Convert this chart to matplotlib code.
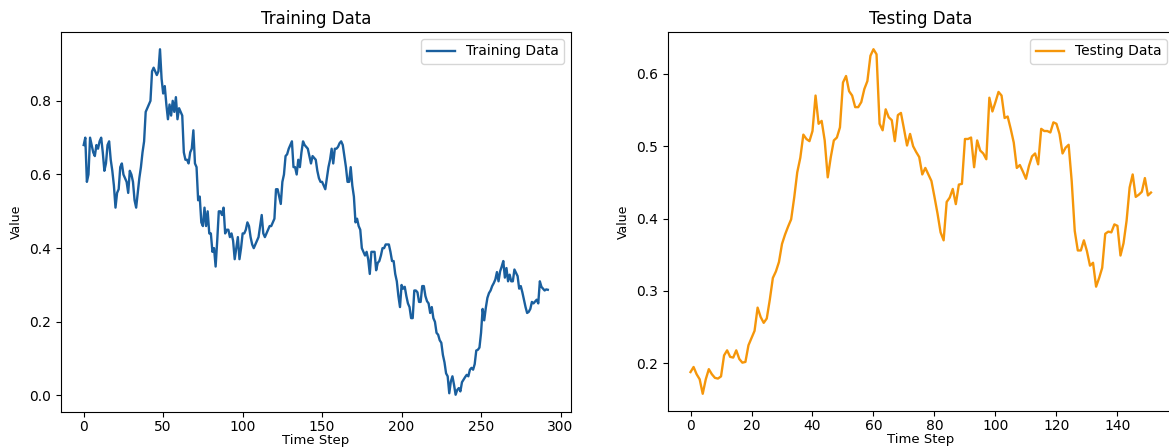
import matplotlib
matplotlib.use('Agg')
import matplotlib.pyplot as plt
import numpy as np

# values
train_values = [
    0.68, 0.70, 0.58, 0.60, 0.70, 0.68, 0.66, 0.65, 0.68, 0.67,
    0.69, 0.70, 0.66, 0.61, 0.63, 0.68, 0.69, 0.64, 0.61, 0.57,
    0.51, 0.55, 0.56, 0.62, 0.63, 0.60, 0.59, 0.58, 0.55, 0.61,
    0.60, 0.58, 0.53, 0.51, 0.55, 0.59, 0.62, 0.66, 0.69, 0.77,
    0.78, 0.79, 0.80, 0.88, 0.89, 0.88, 0.87, 0.88, 0.94, 0.86,
    0.82, 0.84, 0.79, 0.75, 0.79, 0.76, 0.80, 0.77, 0.81, 0.75,
    0.78, 0.77, 0.76, 0.66, 0.64, 0.64, 0.63, 0.66, 0.67, 0.72,
    0.63, 0.62, 0.53, 0.54, 0.47, 0.46, 0.51, 0.46, 0.50, 0.44,
    0.44, 0.39, 0.40, 0.35, 0.42, 0.50, 0.50, 0.49, 0.51, 0.44,
    0.45, 0.45, 0.43, 0.44, 0.42, 0.37, 0.40, 0.43, 0.37, 0.40,
    0.44, 0.44, 0.45, 0.47, 0.46, 0.43, 0.41, 0.40, 0.41, 0.42,
    0.43, 0.46, 0.49, 0.44, 0.43, 0.44, 0.45, 0.46, 0.46, 0.47,
    0.48, 0.56, 0.56, 0.54, 0.52, 0.58, 0.60, 0.65, 0.655, 0.67,
    0.68, 0.69, 0.62, 0.62, 0.60, 0.64, 0.62, 0.66, 0.69, 0.68,
    0.675, 0.67, 0.65, 0.63, 0.65, 0.645, 0.64, 0.61, 0.59, 0.58,
    0.58, 0.57, 0.56, 0.59, 0.62, 0.64, 0.67, 0.63, 0.67, 0.67,
    0.675, 0.685, 0.69, 0.68, 0.65, 0.62, 0.58, 0.58, 0.62, 0.57,
    0.54, 0.47, 0.48, 0.46, 0.45, 0.40, 0.39, 0.38, 0.39, 0.37,
    0.33, 0.39, 0.39, 0.39, 0.34, 0.36, 0.365, 0.38, 0.40, 0.40,
    0.41, 0.41, 0.41, 0.39, 0.365, 0.365, 0.33, 0.31, 0.27, 0.24,
    0.30, 0.29, 0.295, 0.27, 0.25, 0.24, 0.21, 0.21, 0.285, 0.285,
    0.28, 0.254, 0.254, 0.297, 0.297, 0.27, 0.256, 0.25, 0.224, 0.24,
    0.21, 0.20, 0.17, 0.165, 0.15, 0.143, 0.11, 0.09, 0.06, 0.052,
    0.006, 0.038, 0.052, 0.029, 0.002, 0.015, 0.02, 0.011, 0.036, 0.043,
    0.05, 0.056, 0.052, 0.07, 0.075, 0.07, 0.085, 0.122, 0.124, 0.13,
    0.17, 0.235, 0.204, 0.238, 0.265, 0.278, 0.285, 0.297, 0.305, 0.315,
    0.335, 0.31, 0.337, 0.35, 0.365, 0.32, 0.346, 0.31, 0.328, 0.31,
    0.31, 0.342, 0.333, 0.324, 0.29, 0.297, 0.28, 0.26, 0.24, 0.224,
    0.227, 0.235, 0.254, 0.25, 0.255, 0.26, 0.25, 0.31, 0.295, 0.29,
    0.285, 0.288, 0.287,
]

test_values = [
    0.188, 0.195, 0.185, 0.178, 0.158, 0.178, 0.192, 0.185, 0.180, 0.179,
    0.182, 0.211, 0.218, 0.209, 0.208, 0.218, 0.206, 0.201, 0.202, 0.225,
    0.235, 0.245, 0.277, 0.264, 0.256, 0.262, 0.288, 0.318, 0.327, 0.340,
    0.365, 0.378, 0.389, 0.399, 0.429, 0.464, 0.484, 0.516, 0.510, 0.507,
    0.521, 0.570, 0.531, 0.535, 0.508, 0.457, 0.485, 0.508, 0.512, 0.526,
    0.588, 0.597, 0.576, 0.570, 0.554, 0.554, 0.561, 0.579, 0.590, 0.625,
    0.634, 0.627, 0.531, 0.522, 0.551, 0.540, 0.536, 0.507, 0.543, 0.546,
    0.524, 0.501, 0.517, 0.500, 0.492, 0.485, 0.461, 0.470, 0.461, 0.452,
    0.430, 0.407, 0.381, 0.370, 0.423, 0.429, 0.441, 0.420, 0.447, 0.448,
    0.510, 0.510, 0.512, 0.471, 0.508, 0.494, 0.490, 0.482, 0.567, 0.548,
    0.561, 0.575, 0.570, 0.539, 0.541, 0.524, 0.505, 0.470, 0.474, 0.465,
    0.455, 0.473, 0.486, 0.490, 0.475, 0.524, 0.521, 0.521, 0.519, 0.533,
    0.531, 0.517, 0.490, 0.498, 0.502, 0.452, 0.383, 0.356, 0.356, 0.370,
    0.355, 0.335, 0.339, 0.306, 0.318, 0.332, 0.379, 0.382, 0.381, 0.392,
    0.390, 0.349, 0.366, 0.397, 0.443, 0.461, 0.430, 0.433, 0.437, 0.456,
    0.432, 0.436,
]

train_color = '#1a5f9e'
test_color = '#f5960a'

W, H = 1169, 447
fig = plt.figure(figsize=(W / 100, H / 100), dpi=100)

def px_axes(left, right, top, bottom):
    return fig.add_axes([left / W, 1 - bottom / H, (right - left) / W, (bottom - top) / H])

ax1 = px_axes(60.5, 571, 32, 412)
ax2 = px_axes(667.5, 1174, 32, 411)

for ax, vals, color, name in [(ax1, train_values, train_color, 'Training Data'),
                              (ax2, test_values, test_color, 'Testing Data')]:
    ax.plot(np.arange(len(vals)), vals, color=color, lw=1.7, label=name)
    ax.set_title(name)
    ax.set_xlabel('Time Step', labelpad=0, fontsize=9.5)
    ax.set_ylabel('Value', fontsize=9)
    ax.tick_params(axis='x', pad=2.5)
    ax.legend(loc='upper right')

fig.savefig('out.png', dpi=100)
